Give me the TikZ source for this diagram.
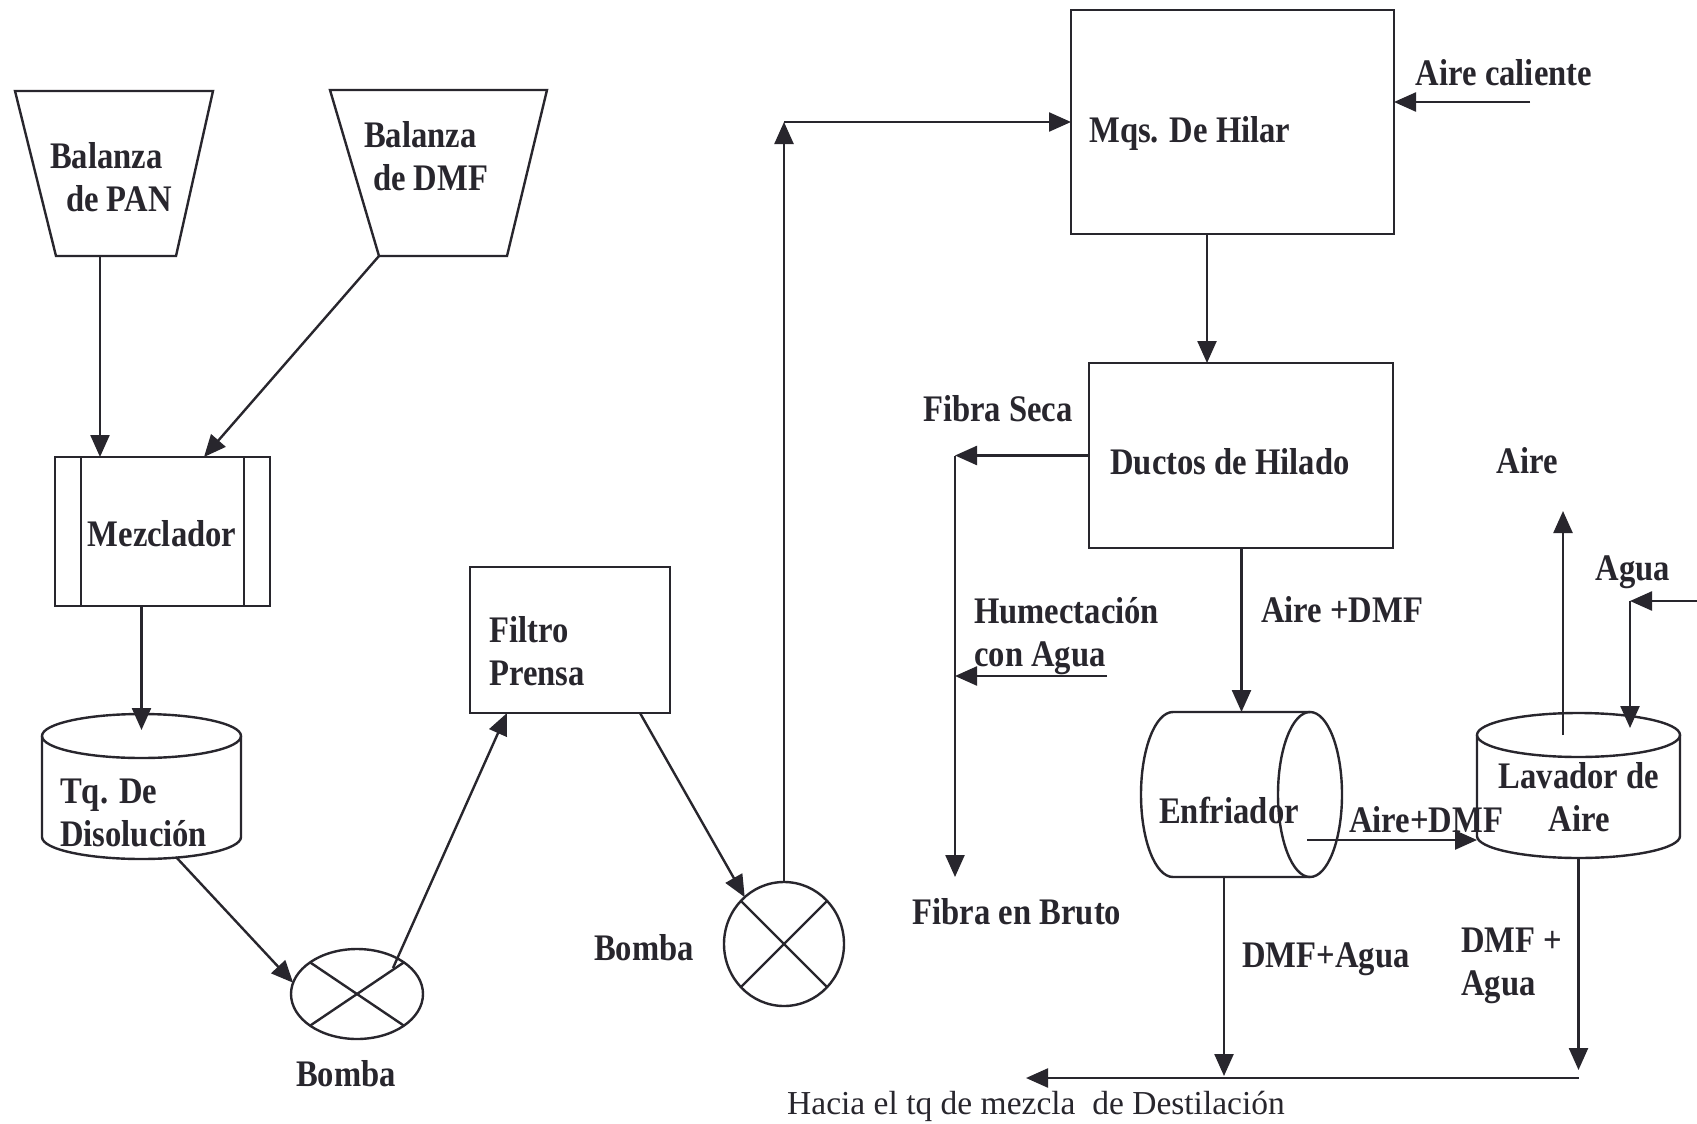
\documentclass[tikz,border=0pt]{standalone}
\usepackage{fontspec}
\setmainfont{Liberation Serif}[FakeStretch=0.87]
\newfontfamily\plainserif{Liberation Serif}
\usetikzlibrary{shapes.geometric,arrows.meta}
\definecolor{ink}{RGB}{40,38,45}
\begin{document}
\begin{tikzpicture}[x=1pt,y=-1pt,
  ln/.style={line width=2.4pt, draw=ink},
  arr/.style={ln, -{Triangle[length=22pt,width=19pt]}},
  hull/.style={rectangle, draw=none, inner sep=0pt, outer sep=0pt},
  bx/.style={rectangle, draw=ink, line width=2.6pt, inner sep=0pt, outer sep=0pt},
  pump/.style={ellipse, draw=ink, line width=2.4pt, inner sep=0pt, outer sep=0pt},
  lbl/.style={font=\bfseries\fontsize{37.5}{43}\selectfont, inner sep=0pt, text=ink},
  note/.style={font=\plainserif\fontsize{33.5}{40}\selectfont, inner sep=0pt, text=ink},
  line join=miter]
\fill[white] (0,0) rectangle (1697,1124);
\useasboundingbox (0,0) rectangle (1697,1124);

% ---- weighing hoppers
\node[hull, minimum width=198pt, minimum height=165pt] (pan) at (114,173.5) {};
\draw[ln] (pan.north west) -- (pan.north east) -- ([xshift=-37pt]pan.south east)
  -- ([xshift=41pt]pan.south west) -- cycle;
\node[hull, minimum width=217pt, minimum height=166pt] (dmf) at (438.5,173) {};
\draw[ln] (dmf.north west) -- (dmf.north east) -- ([xshift=-40pt]dmf.south east)
  -- ([xshift=49pt]dmf.south west) -- cycle;

% ---- mixer
\node[bx, minimum width=215pt, minimum height=149pt] (mez) at (162.5,531.5) {};
\draw[ln] ([xshift=26pt]mez.north west) -- ([xshift=26pt]mez.south west);
\draw[ln] ([xshift=-26pt]mez.north east) -- ([xshift=-26pt]mez.south east);

% ---- dissolution tank
\node[hull, minimum width=199pt, minimum height=101pt] (tank) at (141.5,786.5) {};
\draw[ln] (tank.north) ellipse [x radius=99.5pt, y radius=22pt];
\draw[ln] (tank.north west) -- (tank.south west) arc [start angle=180, end angle=360, x radius=99.5pt, y radius=22pt] -- (tank.north east);

% ---- pumps
\node[pump, minimum width=132pt, minimum height=90pt] (b1) at (357,994) {};
\draw[ln] (b1.34) -- (b1.214) (b1.146) -- (b1.326);
\node[pump, minimum width=120pt, minimum height=124pt] (b2) at (784,944) {};
\draw[ln] (b2.45) -- (b2.225) (b2.135) -- (b2.315);

% ---- filter press
\node[bx, minimum width=200pt, minimum height=146pt] (fil) at (570,640) {};

% ---- spinning machine and ducts
\node[bx, minimum width=323pt, minimum height=224pt] (mqs) at (1232.5,122) {};
\node[bx, minimum width=304pt, minimum height=185pt] (duc) at (1241,455.5) {};

% ---- cooler (horizontal cylinder)
\node[hull, minimum width=137pt, minimum height=165pt] (enf) at (1241.5,794.5) {};
\draw[ln] (enf.north east) -- (enf.north west) arc [start angle=90, end angle=270, x radius=32pt, y radius=82.5pt] -- (enf.south east);
\draw[ln] (enf.east) ellipse [x radius=32pt, y radius=82.5pt];

% ---- air scrubber (vertical cylinder)
\node[hull, minimum width=203pt, minimum height=101pt] (lav) at (1578.5,785.5) {};
\draw[ln] (lav.north) ellipse [x radius=101.5pt, y radius=22pt];
\draw[ln] (lav.north west) -- (lav.south west) arc [start angle=180, end angle=360, x radius=101.5pt, y radius=22pt] -- (lav.north east);

% ---- free ends of the streams
\coordinate (seca) at (955,455.5);
\coordinate (bruto) at (955,877);
\coordinate (hum) at (1107,676);
\coordinate (aireout) at (1563,511);
\coordinate (calin) at (1530,102);
\coordinate (aguain) at (1697,601);
\coordinate (aguac) at (1630,601);
\coordinate (hacia) at (1026,1078);
\coordinate (ae) at ([shift={(65.5pt,-45.5pt)}]enf.center);

% ---- connectors
\draw[arr] ([xshift=-14pt]pan.south) -- ([xshift=-14pt]pan.south |- mez.north);
\draw[arr] ([xshift=49pt]dmf.south west) -- ([xshift=149pt]mez.north west);
\draw[arr] (mez.south -| tank.north) -- ([yshift=6pt]tank.north);
\draw[arr] ([xshift=34.5pt,yshift=-20pt]tank.south) -- (b1.170);
\draw[arr] ([shift={(36pt,26pt)}]b1.center) -- ([xshift=37pt]fil.south west);
\draw[arr] ([xshift=170pt]fil.south west) -- (b2.130);
\draw[arr] (b2.north) -- (b2.north |- mqs.west);
\draw[arr] (b2.north |- mqs.west) -- (mqs.west);
\draw[arr] ([xshift=-25.5pt]mqs.south) -- ([xshift=-25.5pt]mqs.south |- duc.north);
\draw[arr] (calin) -- (mqs.east |- calin);
\draw[arr] (duc.west) -- (seca);
\draw[arr] (seca) -- (bruto);
\draw[arr] (hum) -- (hum -| seca);
\draw[arr] (duc.south -| enf.north) -- (enf.north);
\draw[arr] (ae) -- (ae -| lav.west);
\draw[arr] (lav.north -| aireout) -- (aireout);
\draw[arr] (aguain) -- (aguac);
\draw[arr] (aguac) -- ([yshift=7pt]lav.north -| aguac);
\draw[arr] ([xshift=-17.5pt]enf.south) -- ([xshift=-17.5pt,yshift=2pt]enf.south |- hacia);
\draw[arr] ([yshift=-22pt]lav.south) -- ([yshift=8pt]lav.south |- hacia);
\draw[arr] (lav.south |- hacia) -- (hacia);

% ---- labels
\node[lbl, anchor=north west, align=left] (tpan) at (50,142) {Balanza\\\hspace*{16pt}de PAN};
\node[lbl, anchor=north west, align=left] (tdmf) at (364,121) {Balanza\\\hspace*{9pt}de DMF};
\node[lbl, anchor=base] (tmez) at (162,546) {Mezclador};
\node[lbl, anchor=north west, align=left] (ttank) at (60,779) {Tq. De\\Disolución};
\node[lbl, anchor=north west, align=left] (tfil) at (489,616) {Filtro\\Prensa};
\node[lbl, anchor=base] (tb1) at (346,1086) {Bomba};
\node[lbl, anchor=base] (tb2) at (644,960) {Bomba};
\node[lbl, anchor=base west] (tmqs) at (1089,142) {Mqs. De Hilar};
\node[lbl, anchor=base] (tcal) at (1504,85) {Aire caliente};
\node[lbl, anchor=base] (tduc) at (1230,474) {Ductos de Hilado};
\node[lbl, anchor=base] (tseca) at (998,421) {Fibra Seca};
\node[lbl, anchor=base] (taire) at (1527,473) {Aire};
\node[lbl, anchor=north west, align=left] (thum) at (974,597) {Humectación\\con Agua};
\node[lbl, anchor=base] (tad1) at (1342,622) {Aire +DMF};
\node[lbl, anchor=base] (tagua) at (1633,580) {Agua};
\node[lbl, anchor=base] (tenf) at (1229,823) {Enfriador};
\node[lbl, anchor=base] (tad2) at (1426,832) {Aire+DMF};
\node[lbl, anchor=north, align=center] (tlav) at (1579,762) {Lavador de\\Aire};
\node[lbl, anchor=base] (tbruto) at (1017,924) {Fibra en Bruto};
\node[lbl, anchor=base] (tdmfa) at (1326,967) {DMF+Agua};
\node[lbl, anchor=north west, align=left] (tdmfb) at (1461,928) {DMF +\\Agua};
\node[note, anchor=base] (thacia) at (1036,1114) {Hacia el tq de mezcla\ \ de Destilación};
\end{tikzpicture}
\end{document}
